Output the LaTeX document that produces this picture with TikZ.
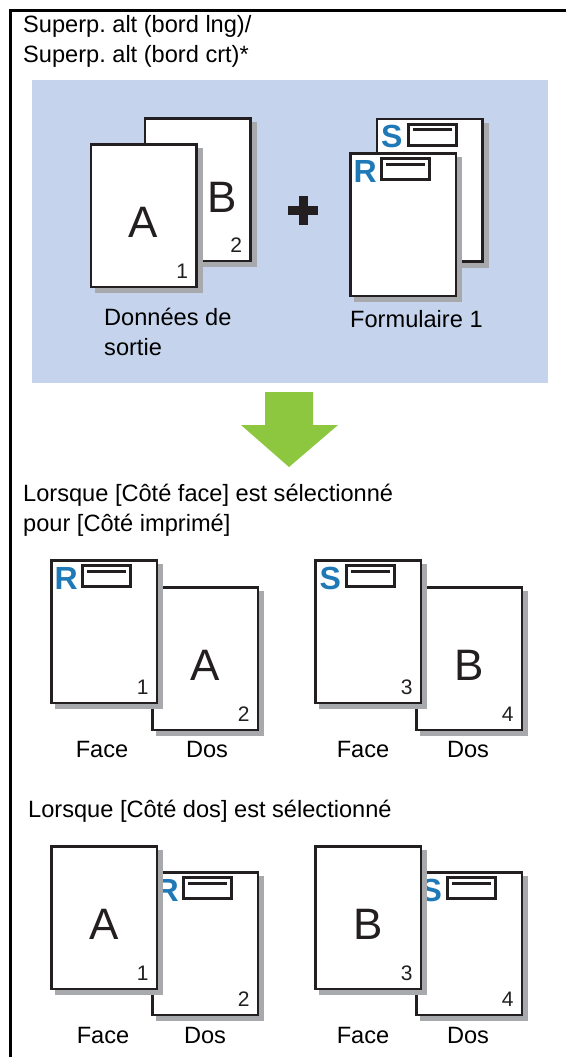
\documentclass[tikz,border=0pt]{standalone}
\usepackage{fontspec}
\setmainfont{Liberation Sans}
\frenchspacing
\definecolor{bluebg}{HTML}{C5D4EC}
\definecolor{pline}{HTML}{231F20}
\definecolor{sgray}{HTML}{A7A9AC}
\definecolor{markblue}{HTML}{1F79B7}
\definecolor{arrgreen}{HTML}{8DC63F}
\newcommand\mkpage[3]{\node[pshadow] (#1s) at (#2+5,#3+5) {};\node[page] (#1) at (#2,#3) {};}
\newcommand\mkmark[2]{%
  \node[marklet] (#1l) at ([shift={(15,29)}]#1.north west) {#2};
  \node[markbox] (#1b) at ([shift={(55.5,16)}]#1.north west) {};
  \draw[markln] ([shift={(-19.5,-5)}]#1b.center) -- ([shift={(19.5,-5)}]#1b.center);}
\newcommand\mknum[2]{\node[numtxt] (#1n) at ([shift={(-14,-8)}]#1.south east) {#2};}
\newcommand\mkbig[4]{\node[bigtxt] (#1c) at ([shift={(#3,#4)}]#1.center) {#2};}
\begin{document}
\begin{tikzpicture}[x=1pt,y=-1pt,
  page/.style={draw=pline, fill=white, line width=2.5pt, minimum width=105.5pt, minimum height=142.5pt, inner sep=0pt, outer sep=0pt},
  pshadow/.style={fill=sgray, minimum width=108pt, minimum height=145pt, inner sep=0pt, outer sep=0pt},
  marklet/.style={anchor=base, inner sep=0pt, text=markblue, font=\fontsize{32}{32}\selectfont\bfseries},
  markbox/.style={draw=pline, fill=white, line width=3pt, minimum width=48pt, minimum height=21pt, inner sep=0pt, outer sep=0pt},
  markln/.style={draw=pline, line width=3pt},
  numtxt/.style={anchor=base, inner sep=0pt, text=pline, font=\fontsize{21}{21}\selectfont},
  bigtxt/.style={anchor=base, inner sep=0pt, text=pline, font=\fontsize{44}{44}\selectfont},
  txt/.style={anchor=base west, inner sep=0pt, font=\fontsize{23.6}{28}\selectfont},
  lbl/.style={anchor=base, inner sep=0pt, font=\fontsize{23.6}{28}\selectfont}]
\useasboundingbox (0,0) rectangle (566,1057);
\fill[white] (0,0) rectangle (566,1057);
% frame
\draw[line width=3pt] (10,1057) -- (10,10.5) -- (566,10.5);
% title
\node[txt] (t1) at (23,33) {Superp. alt (bord lng)/};
\node[txt] (t2) at (23,63) {Superp. alt (bord crt)*};
% blue panel
\fill[bluebg] (32,80) rectangle (548,383);
% output data
\mkpage{pB}{197.5}{189.5}
\mkbig{pB}{B}{24.5}{22.5}
\mknum{pB}{2}
\mkpage{pA}{143.5}{215.5}
\mkbig{pA}{A}{0}{21.5}
\mknum{pA}{1}
\node[txt] (d1) at (104,325) {Données de};
\node[txt] (d2) at (104,355) {sortie};
% plus
\fill[pline] (288,206) rectangle (318,215);
\fill[pline] (298.5,196) rectangle (307.5,225);
% form
\mkpage{fS}{429.5}{190}
\mkmark{fS}{S}
\mkpage{fR}{403}{224.5}
\mkmark{fR}{R}
\node[txt] (f1) at (350,327) {Formulaire 1};
% green arrow
\fill[arrgreen] (265,392) -- (313,392) -- (313,425) -- (338,425) -- (289,467) -- (241,425) -- (265,425) -- cycle;
% section 2
\node[txt] (h1) at (23,501) {Lorsque [Côté face] est sélectionné};
\node[txt] (h2) at (23,531) {pour [Côté imprimé]};
\mkpage{m1d}{205}{658.5}
\mkbig{m1d}{A}{0}{21.5}
\mknum{m1d}{2}
\mkpage{m1f}{104}{631.5}
\mkmark{m1f}{R}
\mknum{m1f}{1}
\mkpage{m2d}{469}{658.5}
\mkbig{m2d}{B}{0}{21.5}
\mknum{m2d}{4}
\mkpage{m2f}{368}{631.5}
\mkmark{m2f}{S}
\mknum{m2f}{3}
\node[lbl] (mf1) at (102,757) {Face};
\node[lbl] (md1) at (207,757) {Dos};
\node[lbl] (mf2) at (363,757) {Face};
\node[lbl] (md2) at (468,757) {Dos};
% section 3
\node[txt] (h3) at (28,817) {Lorsque [Côté dos] est sélectionné};
\mkpage{b1d}{205}{943.5}
\mkmark{b1d}{R}
\mknum{b1d}{2}
\mkpage{b1f}{104}{917.5}
\mkbig{b1f}{A}{0}{21.5}
\mknum{b1f}{1}
\mkpage{b2d}{469}{943.5}
\mkmark{b2d}{S}
\mknum{b2d}{4}
\mkpage{b2f}{368}{917.5}
\mkbig{b2f}{B}{0}{21.5}
\mknum{b2f}{3}
\node[lbl] (bf1) at (103,1043) {Face};
\node[lbl] (bd1) at (205,1043) {Dos};
\node[lbl] (bf2) at (363,1043) {Face};
\node[lbl] (bd2) at (468,1043) {Dos};
\end{tikzpicture}
\end{document}
